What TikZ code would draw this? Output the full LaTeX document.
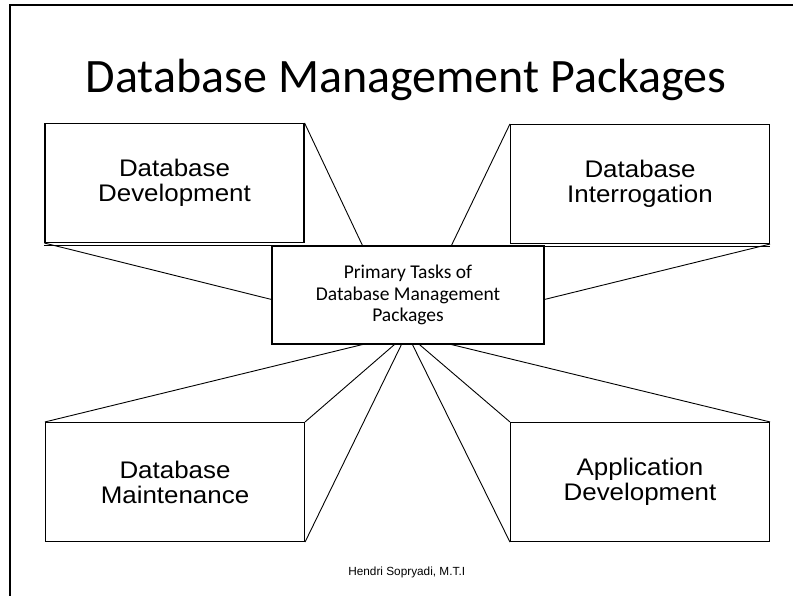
\documentclass[tikz,border=0pt]{standalone}
\usepackage{fontspec}
\setmainfont{Carlito}
\newfontfamily\arialst[FakeStretch=1.08]{Liberation Sans}
\newfontfamily\arialf{Liberation Sans}
\usetikzlibrary{calc}
\begin{document}
\begin{tikzpicture}[x=1pt,y=-1pt,
  taskbox/.style={draw,line width=1.1pt,minimum width=259pt,minimum height=119pt,inner sep=0pt,align=center,
    font=\arialst\fontsize{24}{25}\selectfont},
  hubbox/.style={draw,line width=1.1pt,minimum width=272pt,minimum height=98pt,inner sep=0pt,align=center,
    font=\fontsize{19.5}{21.3}\selectfont},
  ray/.style={line width=0.9pt},
  frame/.style={line width=2pt}]
\useasboundingbox (0,0) rectangle (793,596);
\coordinate (f1) at (10,596);
\coordinate (f2) at (10,5);
\coordinate (f3) at (793,5);
\draw[frame] (f1) -- (f2) -- (f3);
\node[anchor=base,font=\fontsize{48}{50}\selectfont] (title) at (406,92.7) {Database Management Packages};
\node[hubbox] (c) at (408,295) {Primary Tasks of\\Database Management\\Packages};
\node[taskbox] (b1) at (174.5,183) {Database\\Development};
\node[taskbox] (b2) at (640,184) {Database\\Interrogation};
\node[taskbox] (b3) at (175,482) {Database\\Maintenance};
\node[taskbox] (b4) at (640,482) {Application\\Development};
\coordinate (ct1) at ($(c.north west)+(91,0)$);
\coordinate (ct2) at ($(c.north west)+(180,0)$);
\coordinate (cl) at ($(c.north west)+(0,54)$);
\coordinate (cr) at ($(c.north east)+(0,54)$);
\coordinate (cb1) at ($(c.south west)+(91,0)$);
\coordinate (cb2) at ($(c.south west)+(123,0)$);
\coordinate (cb3) at ($(c.south west)+(130,0)$);
\coordinate (cb4) at ($(c.south west)+(141,0)$);
\coordinate (cb5) at ($(c.south west)+(148,0)$);
\coordinate (cb6) at ($(c.south west)+(180,0)$);
\draw[ray] (b1.north east) -- (ct1);
\draw[ray] (b1.south west) -- (cl);
\draw[ray] (b2.north west) -- (ct2);
\draw[ray] (b2.south east) -- (cr);
\draw[ray] (b3.north west) -- (cb1);
\draw[ray] (b3.north east) -- (cb2);
\draw[ray] (b3.south east) -- (cb3);
\draw[ray] (b4.south west) -- (cb4);
\draw[ray] (b4.north west) -- (cb5);
\draw[ray] (b4.north east) -- (cb6);
\draw[ray] ($(b1.south west)+(0,2)$) -- ($(b1.south east)+(0,2)$);
\draw[ray] ($(b2.south west)+(0,2)$) -- ($(b2.south east)+(0,2)$);
\node[anchor=base,font=\arialf\fontsize{11.8}{14}\selectfont] (foot) at (406.7,575.7) {Hendri Sopryadi, M.T.I};
\end{tikzpicture}
\end{document}
